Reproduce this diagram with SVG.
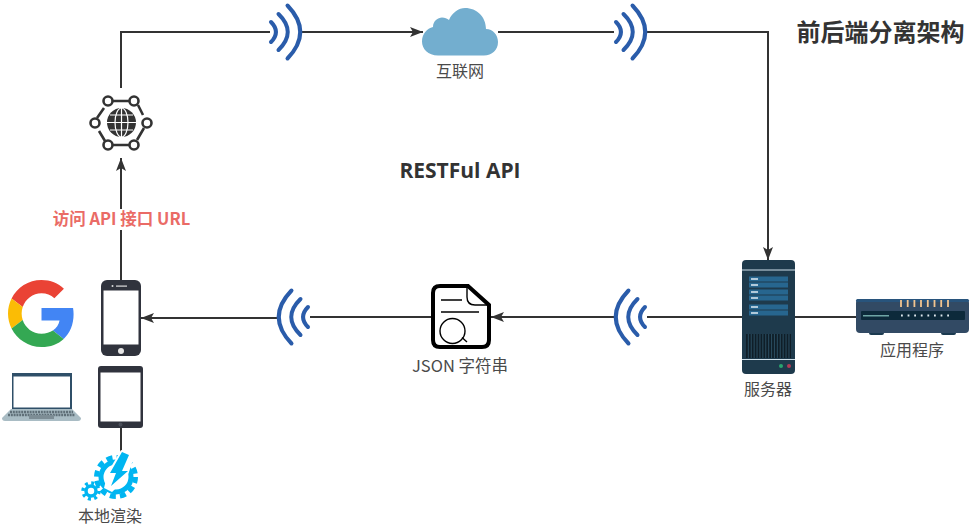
<svg xmlns="http://www.w3.org/2000/svg" width="973" height="530" viewBox="0 0 973 530">
<style>
text{font-family:"Noto Sans CJK SC","Noto Sans",sans-serif;fill:#333;text-anchor:middle}
.lb{font-size:16px;fill:#4a4a4a}
.tt{font-weight:700}
.c{fill:none;stroke:#333;stroke-width:2}
.w{fill:none;stroke:#2a5caa;stroke-width:4;stroke-linecap:round}
.gl{fill:none;stroke:#333;stroke-width:2.600}
.dk{fill:#30333d}
</style>
<defs>
<marker id="a" markerUnits="userSpaceOnUse" markerWidth="14" markerHeight="12" refX="13" refY="6" orient="auto"><path d="M0 1L13 6L0 11L3 6Z" fill="#333"/></marker>
<g id="wr"><path class="w" d="M1-10Q11 0 1 10"/><path class="w" d="M8.500-18Q27 0 8.500 18"/><path class="w" d="M17.500-26.500Q43 0 17.500 26.500"/></g>
</defs>
<g id="connectors">
<path class="c" marker-end="url(#a)" d="M121 280V158"/>
<path class="c" d="M121 88V32H270"/>
<path class="c" marker-end="url(#a)" d="M300 32H423"/>
<path class="c" d="M498 32H614"/>
<path class="c" marker-end="url(#a)" d="M646 32H768V260"/>
<path class="c" d="M742 317H647"/>
<path class="c" marker-end="url(#a)" d="M614 317H491"/>
<path class="c" d="M431 317H310"/>
<path class="c" marker-end="url(#a)" d="M277 318H141"/>
<path class="c" d="M795 317H856"/>
<path class="c" d="M121 428V455"/>
</g>
<g id="wifi1"><use href="#wr" transform="translate(270 32)"/></g>
<g id="wifi2"><use href="#wr" transform="translate(615 32)"/></g>
<g id="wifi3"><use href="#wr" transform="translate(646 317) scale(-1 1)"/></g>
<g id="wifi4"><use href="#wr" transform="translate(309 317) scale(-1 1)"/></g>
<g id="cloud">
<path fill="#73aecf" d="M438 55.500C428 55.500 422 49 422 41.500C422 34 427 28.500 433 27C433 21 438 17.500 442 17.500C445 17.500 447 18.500 449 20C452 12.500 459 8 465 8C477 8 486 17 486 29C493 29 498 35 498 42C498 50 492 55.500 484 55.500Z"/>
<text class="lb" x="460" y="77">互联网</text>
</g>
<g id="globe">
<g class="gl">
<circle cx="108" cy="101" r="4.500"/><circle cx="134" cy="101" r="4.500"/><circle cx="147" cy="123" r="4.500"/><circle cx="134" cy="145" r="4.500"/><circle cx="108" cy="145" r="4.500"/><circle cx="95" cy="123" r="4.500"/>
<path d="M113 101H129M138 105L143 115M144 128L137 140M129 145H113M105 141L99 131M97 118L104 108"/>
</g>
<circle cx="121.500" cy="122.500" r="14.500" fill="#333"/>
<g fill="none" stroke="#fff" stroke-width="1.200"><ellipse cx="121.500" cy="122.500" rx="6.500" ry="14.500"/><path d="M121.500 108V137M107 122.500H136M110 115H133M110 130H133"/></g>
</g>
<g id="label-api"><rect x="52" y="209" width="139" height="21" fill="#fff"/><text class="tt" x="121.500" y="225" font-size="16.500" style="fill:#ea6b66">访问 API 接口 URL</text></g>
<text id="restful" class="tt" x="460" y="178" font-size="21" style="font-family:'Open Sans',sans-serif">RESTFul API</text>
<text id="title" class="tt" x="880.500" y="41" font-size="24">前后端分离架构</text>
<g id="google" transform="translate(8 280) scale(1.396)">
<path fill="#ea4335" d="M24 9.500c3.540 0 6.710 1.220 9.210 3.600l6.850-6.850C35.900 2.380 30.470 0 24 0 14.620 0 6.510 5.380 2.560 13.220l7.980 6.190C12.430 13.720 17.740 9.500 24 9.500z"/>
<path fill="#4285f4" d="M46.980 24.550c0-1.570-.15-3.090-.38-4.550H24v9.020h12.940c-.58 2.960-2.260 5.480-4.780 7.180l7.730 6c4.510-4.180 7.090-10.360 7.090-17.650z"/>
<path fill="#fbbc05" d="M10.530 28.590c-.48-1.450-.76-2.990-.76-4.590s.27-3.140.76-4.590l-7.980-6.190C.92 16.460 0 20.120 0 24c0 3.880.92 7.540 2.560 10.780l7.970-6.190z"/>
<path fill="#34a853" d="M24 48c6.480 0 11.930-2.130 15.890-5.810l-7.730-6c-2.150 1.450-4.920 2.300-8.160 2.300-6.260 0-11.570-4.220-13.470-9.910l-7.980 6.190C6.510 42.620 14.620 48 24 48z"/>
</g>
<g id="phone">
<rect class="dk" x="101" y="280" width="40" height="76" rx="6"/>
<rect x="103.500" y="290.500" width="35" height="54" fill="#fff"/>
<rect x="116" y="285.500" width="11" height="1.200" fill="#ddd"/><circle cx="112.500" cy="286" r="1" fill="#ddd"/>
<circle cx="121" cy="351" r="3" fill="#e6e6e6"/>
</g>
<g id="tablet">
<rect class="dk" x="98" y="366" width="45" height="62" rx="3"/>
<rect x="100.500" y="372.500" width="40" height="49" fill="#fff"/>
<circle cx="120.500" cy="424.500" r="2" fill="#4a4e59"/>
</g>
<g id="laptop">
<path fill="#2f4f68" d="M12 373H72V409H12Z"/>
<rect x="13.500" y="376.500" width="56.500" height="31" fill="#fff"/>
<path fill="#a9bcc4" d="M11 409H72L81 418Q81 421 78 421H5Q2 421 2 418Z"/>
<path stroke="#5f6f78" stroke-width="2.500" stroke-dasharray="2 .8" d="M10 412H73M8 415H75" fill="none"/>
<rect x="29" y="415" width="25" height="4" fill="#7d8d95"/>
</g>
<g id="gears">
<circle cx="116" cy="477" r="15" fill="none" stroke="#00b5f1" stroke-width="5"/>
<circle cx="116" cy="477" r="19.500" fill="none" stroke="#00b5f1" stroke-width="5" stroke-dasharray="6 4.210"/>
<path fill="#fff" d="M121 450L135 454L127 478L112 492L104 488L108 472Z"/>
<path fill="#00b5f1" d="M122 452L129 455L122 471L128 471L111 486L116 473L110 473Z"/>
<circle cx="91" cy="491" r="5" fill="none" stroke="#00b5f1" stroke-width="3.500"/>
<circle cx="91" cy="491" r="8" fill="none" stroke="#00b5f1" stroke-width="3.500" stroke-dasharray="3 3.280"/>
<text class="lb" x="110" y="522">本地渲染</text>
</g>
<g id="json">
<path fill="#fff" stroke="#000" stroke-width="4" d="M440 286H468L489 305V340Q489 347 482 347H440Q433 347 433 340V293Q433 286 440 286Z"/>
<path fill="none" stroke="#000" stroke-width="1.400" d="M467 286V297Q467 305 475 305H489M441 300H462M441 312H479M462 337.500L467 342"/>
<circle cx="452.500" cy="331" r="12.500" fill="none" stroke="#000" stroke-width="1.400"/>
<text class="lb" x="460" y="372" style="font-size:16.500px">JSON 字符串</text>
</g>
<g id="server">
<rect x="742" y="260" width="53" height="114" rx="4" fill="#1e3a4c"/>
<path stroke="#cfe0ea" stroke-width="1.200" d="M742 270H795M742 359.500H795"/>
<g fill="#27668f"><rect x="749" y="276.500" width="39" height="5"/><rect x="749" y="282.500" width="39" height="5"/><rect x="749" y="289.500" width="39" height="5"/><rect x="749" y="295.500" width="39" height="5"/><rect x="749" y="304.500" width="39" height="5"/><rect x="749" y="310.500" width="39" height="5"/></g>
<path stroke="#dfeaf2" stroke-width="1.500" d="M751 279H758M751 285H758M751 292H758M751 298H758M751 307H758M751 313H758"/>
<rect x="746" y="334" width="45" height="24" fill="#28495c"/>
<path stroke="#0f1e28" stroke-width="24" stroke-dasharray="1.800 1.100" d="M746 346H791"/>
<circle cx="781" cy="366" r="2" fill="#2aa36f"/><circle cx="789" cy="366" r="2" fill="#b23a56"/>
<text class="lb" x="768" y="395">服务器</text>
</g>
<g id="app">
<rect x="869" y="331" width="15" height="4" rx="2" fill="#1b3a50"/><rect x="941" y="331" width="15" height="4" rx="2" fill="#1b3a50"/>
<rect x="856" y="299" width="113" height="34" rx="4" fill="#324a64"/>
<rect x="856" y="299" width="113" height="3" rx="1.500" fill="#28547c"/>
<rect x="861" y="311" width="104" height="9" rx="1" fill="#0d2a3b"/>
<rect x="863" y="315" width="26" height="1.500" fill="#6fa5a5"/>
<path stroke="#f2c48f" stroke-width="1.800" d="M901 300V307M907.700 300V307M914.400 300V307M921 300V307M927.800 300V307M934.500 300V307M941.200 300V307M948 300V307"/>
<path stroke="#dfe8ee" stroke-width="1.800" stroke-dasharray="1.800 4.800" d="M901 315.500H950"/>
<text class="lb" x="912" y="356">应用程序</text>
</g>
</svg>
